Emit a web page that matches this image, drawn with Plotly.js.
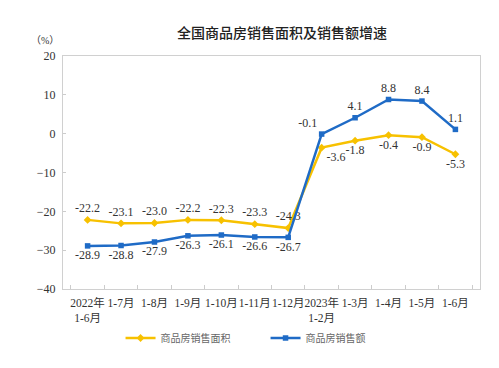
<!DOCTYPE html>
<html><head><meta charset="utf-8">
<script src="https://cdn.plot.ly/plotly-3.0.1.min.js"></script>
<style>html,body{margin:0;padding:0;background:#fff}#c{width:499px;height:368px}</style>
</head><body><div id="c"></div>
<script>
const categories = ["2022年<br>1-6月","1-7月","1-8月","1-9月","1-10月","1-11月","1-12月","2023年<br>1-2月","1-3月","1-4月","1-5月","1-6月"];
const areaGrowth = [-22.2,-23.1,-23.0,-22.2,-22.3,-23.3,-24.3,-3.6,-1.8,-0.4,-0.9,-5.3];
const salesGrowth = [-28.9,-28.8,-27.9,-26.3,-26.1,-26.6,-26.7,-0.1,4.1,8.8,8.4,1.1];
const areaName = "商品房销售面积";
const salesName = "商品房销售额";
const yTicks = [-40,-30,-20,-10,0,10,20];

const serif = "Liberation Serif, Times New Roman, Noto Sans CJK SC, serif";
const areaPos = areaGrowth.map((v,i)=> i<7 ? "top center" : "bottom center");
areaPos[7] = "bottom right";
const salesPos = salesGrowth.map((v,i)=> i<7 ? "bottom center" : "top center");
salesPos[7] = "top left";

const traces = [
 {x:categories, y:areaGrowth, name:areaName, type:"scatter", mode:"lines+markers+text",
  line:{color:"#F7C100", width:2.5}, marker:{symbol:"diamond", size:6, color:"#F7C100"},
  text:areaGrowth.map(v=>v.toFixed(1)), textposition:areaPos,
  textfont:{family:serif, size:12, color:"#333"}, cliponaxis:false},
 {x:categories, y:salesGrowth, name:salesName, type:"scatter", mode:"lines+markers+text",
  line:{color:"#1F6BC6", width:2.5}, marker:{symbol:"square", size:5.5, color:"#1F6BC6"},
  text:salesGrowth.map(v=>v.toFixed(1)), textposition:salesPos,
  textfont:{family:serif, size:12, color:"#333"}, cliponaxis:false}
];

const layout = {
 width:499, height:368,
 margin:{l:63, r:19, t:56, b:79},
 paper_bgcolor:"#fff", plot_bgcolor:"#fff",
 title:{text:"全国商品房销售面积及销售额增速", x:0.565, xanchor:"center", y:0.91, yanchor:"middle",
   font:{family:"Noto Sans CJK SC, sans-serif", size:14, color:"#222", weight:500}},
 showlegend:true,
 legend:{orientation:"h", x:0.138, xanchor:"left", y:-0.148, yanchor:"top",
   font:{family:"Noto Sans CJK SC, sans-serif", size:10, color:"#666"}, entrywidth:100, entrywidthmode:"pixels"},
 xaxis:{type:"category", tickson:"boundaries", ticks:"inside", ticklen:4, tickcolor:"#ccc", tickangle:0, automargin:false,
   showline:true, linecolor:"#d0d0d0", linewidth:1, mirror:true, showgrid:false, zeroline:false,
   tickfont:{family:serif, size:11.5, color:"#333"}, ticklabelstandoff:3, fixedrange:true},
 yaxis:{range:[-40,20], tickvals:yTicks, ticks:"inside", ticklen:3, tickcolor:"#ccc", automargin:false,
   showline:true, linecolor:"#d0d0d0", linewidth:1, mirror:true, showgrid:false, zeroline:false,
   tickfont:{family:serif, size:12, color:"#333"}, ticklabelstandoff:4},
 annotations:[{text:"（%）", xref:"paper", yref:"paper", x:-0.005, y:1.065, xanchor:"right", yanchor:"middle",
   showarrow:false, font:{family:serif, size:10, color:"#333"}}]
};
Plotly.newPlot("c", traces, layout, {displayModeBar:false, staticPlot:true});
</script></body></html>
